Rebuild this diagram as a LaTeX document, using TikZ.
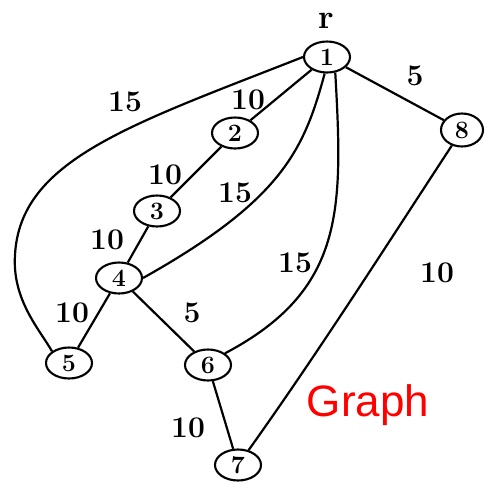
\documentclass[tikz,border=0pt]{standalone}
\usepackage{fontspec}
\newfontfamily\graphfont{Liberation Sans}
\usetikzlibrary{shapes.geometric}
\begin{document}
\begin{tikzpicture}[x=1pt,y=-1pt,
  vtx/.style={draw,ellipse,line width=2.1pt,minimum width=46pt,minimum height=31pt,inner sep=0pt,font=\fontsize{25}{25}\bfseries\selectfont},
  edge/.style={line width=2.2pt},
  wlabel/.style={font=\fontsize{30}{30}\bfseries\selectfont,inner sep=0pt}]
\useasboundingbox (0,0) rectangle (485,485);
\node[vtx] (n1) at (327,57) {1};
\node[vtx] (n2) at (235,133) {2};
\node[vtx] (n3) at (157,211) {3};
\node[vtx] (n4) at (119,278) {4};
\node[vtx] (n5) at (69,363) {5};
\node[vtx] (n6) at (208,365) {6};
\node[vtx] (n7) at (238,465) {7};
\node[vtx,minimum width=42pt,minimum height=33pt] (n8) at (462,130) {8};
\node[font=\fontsize{34}{34}\bfseries\selectfont,inner sep=0pt,anchor=base] (rlab) at (326,28) {r};
\draw[edge] (n1) -- (n2);
\draw[edge] (n2) -- (n3);
\draw[edge] (n3) -- (n4);
\draw[edge] (n4) -- (n5);
\draw[edge] (n4) -- (n6);
\draw[edge] (n6) -- (n7);
\draw[edge] (n1) -- (n8);
\draw[edge] (n8) .. controls (390,240) and (320,350) .. (n7);
\draw[edge] (n1.west) .. controls (130,125) and (20,160) .. (15,255) .. controls (12,300) and (40,330) .. (n5.north west);
\draw[edge] (n1.-98) .. controls (304,150) and (282,200) .. (n4.east);
\draw[edge] (n1.-62) .. controls (343,210) and (345,290) .. (n6.north east);
\node[wlabel] (w15a) at (125,102) {15};
\node[wlabel] (w10a) at (248,100) {10};
\node[wlabel] (w5a) at (415,76) {5};
\node[wlabel] (w10b) at (165,175) {10};
\node[wlabel] (w15b) at (235,193) {15};
\node[wlabel] (w10c) at (107,240) {10};
\node[wlabel] (w15c) at (295,263) {15};
\node[wlabel] (w10d) at (437,273) {10};
\node[wlabel] (w10e) at (72,313) {10};
\node[wlabel] (w5b) at (192,313) {5};
\node[wlabel] (w10f) at (188,428) {10};
\node[font=\graphfont\fontsize{44}{44}\selectfont,text=red,inner sep=0pt] (title) at (368,405) {Graph};
\end{tikzpicture}
\end{document}
